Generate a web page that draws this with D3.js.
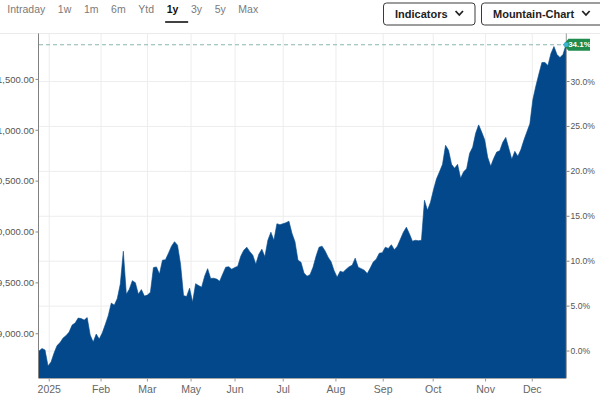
<!DOCTYPE html>
<html><head><meta charset="utf-8">
<script src="https://cdn.jsdelivr.net/npm/d3@7"></script>
<style>
body{margin:0;background:#fff;}
svg{display:block;font-family:"Liberation Sans",Arial,sans-serif;}
</style>
</head><body>
<svg id="c" width="600" height="400"></svg>
<script>
// ---- data ----
const closes = [
8830,8855,8840,8683,8722,8810,8884,8913,8958,8982,
9016,9085,9105,9154,9149,9134,9159,8987,8918,8997,
8948,9007,9090,9178,9301,9281,9347,9488,9811,9389,
9438,9522,9502,9389,9434,9370,9380,9409,9650,9657,
9586,9723,9728,9792,9861,9905,9870,9684,9375,9365,
9448,9311,9492,9473,9458,9566,9640,9543,9546,9537,
9517,9586,9654,9659,9635,9650,9664,9762,9821,9851,
9807,9772,9684,9782,9831,9757,9919,9998,9919,10081,
10072,10081,10091,10106,9988,9905,9723,9703,9596,9566,
9581,9654,9762,9851,9861,9814,9753,9708,9620,9556,
9615,9605,9635,9659,9674,9743,9654,9640,9625,9591,
9645,9706,9733,9792,9797,9851,9838,9875,9826,9861,
9929,9998,10047,9983,9910,9919,9914,9919,10312,10214,
10292,10415,10523,10592,10665,10852,10803,10665,10626,10665,
10528,10592,10621,10773,10832,10970,11053,10982,10906,10734,
10646,10724,10786,10798,10881,10930,10822,10714,10793,10744,
10808,10901,10984,11063,11303,11436,11553,11666,11666,11637,
11755,11823,11745,11715,11745,11841
];
const periods = ["Intraday","1w","1m","6m","Ytd","1y","3y","5y","Max"];
const activePeriod = "1y";
const buttons = ["Indicators","Mountain-Chart"];
const monthLabels = ["2025","Feb","Mar","May","Jun","Jul","Aug","Sep","Oct","Nov","Dec"];
const monthTickIndex = [3.4,20.6,36.0,50.5,65.1,81.1,98.6,114.3,130.9,148.3,163.8];
const priceTicks = [9000,9500,10000,10500,11000,11500];
const pctTicks = [0,5,10,15,20,25,30];

// ---- layout ----
const svg = d3.select("#c");
const L = 39, R = 566, T = 33.5, B = 378;
const base = closes[0], last = closes[closes.length-1];
const x = d3.scaleLinear().domain([0, closes.length-1]).range([L, R]);
const y = d3.scaleLinear().domain([8565, 11951]).range([B, T]);

// top separator
svg.append("line").attr("x1",0).attr("x2",600).attr("y1",T).attr("y2",T)
  .attr("stroke","#ebebeb").attr("stroke-width",1);

// period nav
let px = 7.3;
periods.forEach(p => {
  const t = svg.append("text").attr("x",px).attr("y",13).text(p)
    .attr("font-size",10.5).attr("fill", p===activePeriod ? "#111" : "#7a7a7a")
    .attr("font-weight", p===activePeriod ? "bold" : "normal");
  const w = t.node().getComputedTextLength();
  if (p===activePeriod) {
    svg.append("line").attr("x1",px-1.5).attr("x2",px+21.5).attr("y1",22).attr("y2",22)
      .attr("stroke","#111").attr("stroke-width",1.6);
  }
  px += w + 12.6;
});

// buttons
const btnX = [383.5, 481.5], btnW = [91.5, 125];
buttons.forEach((b,i) => {
  svg.append("rect").attr("x",btnX[i]).attr("y",3).attr("width",btnW[i]).attr("height",22)
    .attr("rx",3).attr("fill","#fff").attr("stroke","#3a3a3a").attr("stroke-width",1);
  const t = svg.append("text").attr("x",btnX[i]+11.5).attr("y",18).text(b)
    .attr("font-size",11).attr("font-weight","bold").attr("fill","#222");
  const w = t.node().getComputedTextLength();
  const cx = btnX[i]+11.5+w+8;
  svg.append("path").attr("d",`M${cx},11 L${cx+3.7},15 L${cx+7.4},11`)
    .attr("fill","none").attr("stroke","#222").attr("stroke-width",1.8);
});

// gridlines
svg.append("g").selectAll("line").data(pctTicks).join("line")
  .attr("x1",L).attr("x2",R)
  .attr("y1",d=>y(base*(1+d/100))).attr("y2",d=>y(base*(1+d/100)))
  .attr("stroke","#ededed");
svg.append("g").selectAll("line").data(monthTickIndex).join("line")
  .attr("x1",d=>x(d)).attr("x2",d=>x(d)).attr("y1",T).attr("y2",B)
  .attr("stroke","#ededed");

// area
const area = d3.area().x((d,i)=>x(i)).y0(B).y1(d=>y(d));
svg.append("path").datum(closes).attr("d",area).attr("fill","#03488a")
  .attr("stroke","#03488a").attr("stroke-width",0.6);

// axes lines
svg.append("line").attr("x1",L-0.5).attr("x2",L-0.5).attr("y1",T).attr("y2",B)
  .attr("stroke","#808080");
svg.append("line").attr("x1",R+0.3).attr("x2",R+0.3).attr("y1",T).attr("y2",B)
  .attr("stroke","#9a9a9a");
svg.append("line").attr("x1",L-0.5).attr("x2",R+0.3).attr("y1",B+0.5).attr("y2",B+0.5)
  .attr("stroke","#a5a5a5");

// left axis
const ly = svg.append("g");
priceTicks.forEach(v => {
  ly.append("line").attr("x1",35.5).attr("x2",38.5).attr("y1",y(v)).attr("y2",y(v)).attr("stroke","#888");
  ly.append("text").attr("x",34).attr("y",y(v)).attr("dy","0.35em").attr("text-anchor","end")
    .attr("font-size",9.5).attr("fill","#555").text(d3.format(",.2f")(v));
});

// right axis
const ry = svg.append("g");
pctTicks.forEach(p => {
  const yy = y(base*(1+p/100));
  ry.append("line").attr("x1",R+0.5).attr("x2",R+3.5).attr("y1",yy).attr("y2",yy).attr("stroke","#888");
  ry.append("text").attr("x",R+4.5).attr("y",yy).attr("dy","0.35em")
    .attr("font-size",8.6).attr("fill","#555").text(p.toFixed(1)+"%");
});

// x axis
const xa = svg.append("g");
monthTickIndex.forEach((d,i) => {
  xa.append("line").attr("x1",x(d)).attr("x2",x(d)).attr("y1",B+0.5).attr("y2",B+3.5).attr("stroke","#999");
  xa.append("text").attr("x",x(d)).attr("y",393).attr("text-anchor","middle")
    .attr("font-size",10.5).attr("fill","#666").text(monthLabels[i]);
});

// last value line + badge
const yl = y(last);
svg.append("line").attr("x1",L).attr("x2",R).attr("y1",yl).attr("y2",yl)
  .attr("stroke","#8cb8ae").attr("stroke-width",1.1).attr("stroke-dasharray","4,3");
svg.append("path")
  .attr("d",`M${R-3},${yl} L${R+2.5},${yl-6} L${R+24},${yl-6} L${R+24},${yl+6} L${R+2.5},${yl+6} Z`)
  .attr("fill","#1f8c4d");
svg.append("circle").attr("cx",R).attr("cy",yl).attr("r",2.4).attr("fill","#3cb4d2");
const pct = (last/base - 1)*100;
svg.append("text").attr("x",R+13.5).attr("y",yl).attr("dy","0.35em").attr("text-anchor","middle")
  .attr("font-size",8).attr("font-weight","bold").attr("fill","#fff").text(pct.toFixed(1)+"%");
</script>
</body></html>
